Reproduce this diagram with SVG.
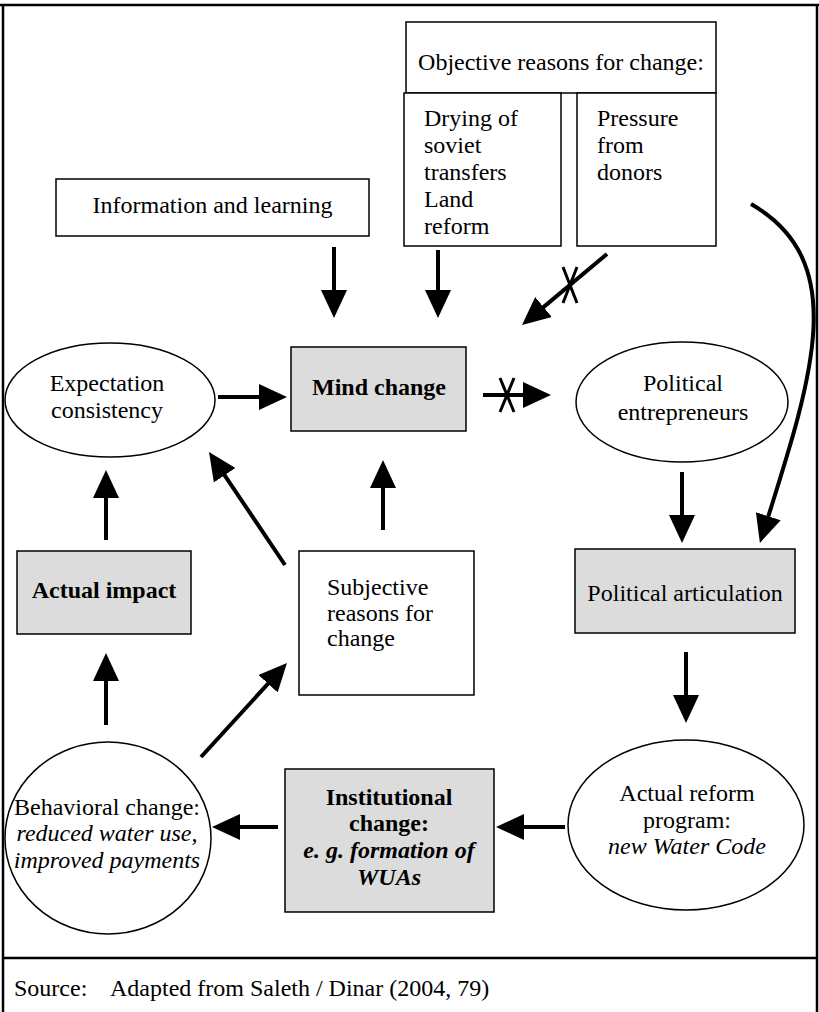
<svg xmlns="http://www.w3.org/2000/svg" width="819" height="1012" viewBox="0 0 819 1012">
<style>
text{font-family:"Liberation Serif","Times New Roman",serif;font-size:24px;fill:#000}
.c{text-anchor:middle}
.b{font-weight:bold}
.i{font-style:italic}
.box{fill:#fff;stroke:#000;stroke-width:1.5}
.gray{fill:#dcdcdc;stroke:#000;stroke-width:1.5}
.ell{fill:#fff;stroke:#000;stroke-width:1.5}
.arr{stroke:#000;stroke-width:4;fill:none;marker-end:url(#ah)}
.x{stroke:#000;stroke-width:3;fill:none}
.frame{stroke:#000;stroke-width:2.5;fill:none}
</style>
<defs>
<marker id="ah" markerUnits="userSpaceOnUse" markerWidth="28" markerHeight="26" refX="18" refY="13" orient="auto">
<path d="M0,0 L28,13 L0,26 z" fill="#000"/>
</marker>
</defs>
<rect x="0" y="0" width="819" height="1012" fill="#fff"/>
<g id="frame">
<line class="frame" x1="0" y1="5" x2="819" y2="5"/>
<line class="frame" x1="3" y1="5" x2="3" y2="1012"/>
<line class="frame" x1="817" y1="5" x2="817" y2="1012"/>
<line class="frame" x1="3" y1="958" x2="817" y2="958"/>
</g>
<g id="objective">
<rect class="box" x="406" y="22" width="310" height="71"/>
<text class="c" x="561" y="70">Objective reasons for change:</text>
</g>
<g id="drying">
<rect class="box" x="404" y="93" width="157" height="153"/>
<text x="424" y="126">Drying of</text>
<text x="424" y="153">soviet</text>
<text x="424" y="180">transfers</text>
<text x="424" y="207">Land</text>
<text x="424" y="234">reform</text>
</g>
<g id="pressure">
<rect class="box" x="577" y="93" width="139" height="153"/>
<text x="597" y="126">Pressure</text>
<text x="597" y="153">from</text>
<text x="597" y="180">donors</text>
</g>
<g id="information">
<rect class="box" x="56" y="179" width="313" height="57"/>
<text class="c" x="212.5" y="213">Information and learning</text>
</g>
<g id="expectation">
<ellipse class="ell" cx="110" cy="400" rx="105" ry="57"/>
<text class="c" x="107" y="391">Expectation</text>
<text class="c" x="107" y="418">consistency</text>
</g>
<g id="mind">
<rect class="gray" x="291" y="347" width="175" height="84"/>
<text class="c b" x="379" y="395">Mind change</text>
</g>
<g id="entrepreneurs">
<ellipse class="ell" cx="682" cy="402" rx="106" ry="60"/>
<text class="c" x="683" y="391">Political</text>
<text class="c" x="683" y="420">entrepreneurs</text>
</g>
<g id="impact">
<rect class="gray" x="17" y="551" width="174" height="83"/>
<text class="c b" x="104" y="598">Actual impact</text>
</g>
<g id="subjective">
<rect class="box" x="299" y="551" width="175" height="144"/>
<text x="327" y="595">Subjective</text>
<text x="327" y="621">reasons for</text>
<text x="327" y="646">change</text>
</g>
<g id="articulation">
<rect class="gray" x="575" y="549" width="220" height="84"/>
<text class="c" x="685" y="601">Political articulation</text>
</g>
<g id="behavioral">
<ellipse class="ell" cx="108" cy="838" rx="103" ry="96"/>
<text class="c" x="107" y="815">Behavioral change:</text>
<text class="c i" x="107" y="841">reduced water use,</text>
<text class="c i" x="107" y="868">improved payments</text>
</g>
<g id="institutional">
<rect class="gray" x="285" y="769" width="209" height="143"/>
<text class="c b" x="389" y="805">Institutional</text>
<text class="c b" x="389" y="831">change:</text>
<text class="c b i" x="389" y="858">e. g. formation of</text>
<text class="c b i" x="389" y="885">WUAs</text>
</g>
<g id="reform">
<ellipse class="ell" cx="686" cy="825" rx="118" ry="85"/>
<text class="c" x="687" y="801">Actual reform</text>
<text class="c" x="687" y="828">program:</text>
<text class="c i" x="687" y="854">new Water Code</text>
</g>
<g id="source">
<text x="14" y="996">Source:</text>
<text x="110" y="996">Adapted from Saleth / Dinar (2004, 79)</text>
</g>
<g id="connectors">
<line class="arr" x1="334" y1="247" x2="334" y2="308"/>
<line class="arr" x1="438" y1="250" x2="438" y2="308"/>
<line class="arr" x1="607" y1="254" x2="529.7" y2="318.6"/>
<path class="x" d="M563,267 L577,303 M577,267 L563,303"/>
<line class="arr" x1="218" y1="397" x2="277" y2="397"/>
<line class="arr" x1="483" y1="395" x2="541" y2="395"/>
<path class="x" d="M500,378 L514,412 M514,378 L500,412"/>
<line class="arr" x1="106" y1="540" x2="106" y2="480"/>
<line class="arr" x1="285" y1="565" x2="214.6" y2="460.3"/>
<line class="arr" x1="383" y1="530" x2="383" y2="470"/>
<line class="arr" x1="682" y1="472" x2="682" y2="533"/>
<path class="arr" d="M751,204 C852,262 812,378 762.9,533.4"/>
<line class="arr" x1="686" y1="652" x2="686" y2="713"/>
<line class="arr" x1="565" y1="827" x2="506" y2="827"/>
<line class="arr" x1="278" y1="827" x2="222" y2="827"/>
<line class="arr" x1="106" y1="725" x2="106" y2="663"/>
<line class="arr" x1="201" y1="757" x2="280.2" y2="670.4"/>
</g>
</svg>
